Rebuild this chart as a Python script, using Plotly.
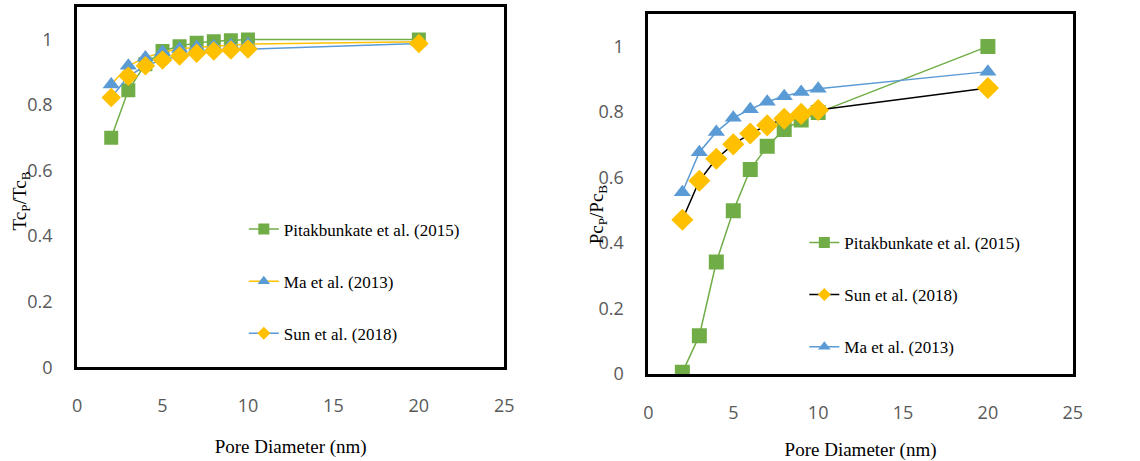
import plotly.graph_objects as go

# Pore diameters (nm) shared by all series
pore_d = [2, 3, 4, 5, 6, 7, 8, 9, 10, 20]

# Critical temperature ratio Tc_P / Tc_B
tc_pitak = [0.70, 0.845, 0.925, 0.965, 0.98, 0.99, 0.995, 0.998, 1.0, 1.0]
tc_ma = [0.863, 0.92, 0.945, 0.962, 0.972, 0.977, 0.98, 0.983, 0.986, 0.993]
tc_sun = [0.823, 0.888, 0.92, 0.938, 0.95, 0.958, 0.965, 0.968, 0.971, 0.988]

# Critical pressure ratio Pc_P / Pc_B
pc_pitak = [0.005, 0.117, 0.342, 0.498, 0.624, 0.695, 0.746, 0.775, 0.798, 1.0]
pc_sun = [0.471, 0.590, 0.657, 0.701, 0.734, 0.759, 0.779, 0.794, 0.806, 0.873]
pc_ma = [0.555, 0.677, 0.739, 0.782, 0.808, 0.831, 0.848, 0.861, 0.871, 0.923]

x_ticks = [0, 5, 10, 15, 20, 25]
y_ticks = [0, 0.2, 0.4, 0.6, 0.8, 1.0]

GREEN = "#70AD47"
BLUE = "#5B9BD5"
GOLD = "#FFC000"
BLACK = "#000000"
SERIF = "Liberation Serif"

fig = go.Figure()


def add_series(x, y, name, line_color, marker_color, symbol, size, key_size, xa, ya, legend, group):
    # plotted data
    fig.add_trace(go.Scatter(
        x=x, y=y, name=name, mode="lines+markers",
        line=dict(color=line_color, width=1.5),
        marker=dict(symbol=symbol, size=size, color=marker_color, line=dict(width=0)),
        xaxis=xa, yaxis=ya, showlegend=False, legendgroup=group,
    ))
    # legend key with a smaller marker
    fig.add_trace(go.Scatter(
        x=[None], y=[None], name=name, mode="lines+markers",
        line=dict(color=line_color, width=1.5),
        marker=dict(symbol=symbol, size=key_size, color=marker_color, line=dict(width=0)),
        xaxis=xa, yaxis=ya, legend=legend, legendgroup=group, hoverinfo="skip",
    ))


# Left panel: temperature ratio
add_series(pore_d, tc_pitak, "Pitakbunkate et al. (2015)", GREEN, GREEN, "square", 14, 11, "x", "y", "legend", "t1")
add_series(pore_d, tc_ma, "Ma et al. (2013)", GOLD, BLUE, "triangle-up", 15, 11, "x", "y", "legend", "t2")
add_series(pore_d, tc_sun, "Sun et al. (2018)", BLUE, GOLD, "diamond", 15, 10, "x", "y", "legend", "t3")

# Right panel: pressure ratio
add_series(pore_d, pc_pitak, "Pitakbunkate et al. (2015)", GREEN, GREEN, "square", 15, 11, "x2", "y2", "legend2", "p1")
add_series(pore_d, pc_sun, "Sun et al. (2018)", BLACK, GOLD, "diamond", 17, 10, "x2", "y2", "legend2", "p2")
add_series(pore_d, pc_ma, "Ma et al. (2013)", BLUE, BLUE, "triangle-up", 15, 11, "x2", "y2", "legend2", "p3")

tick_font = dict(family="Open Sans", size=18, color="#595959")

xaxis_common = dict(
    range=[0, 25], tickvals=x_ticks, showgrid=False, zeroline=False,
    showline=True, mirror=True, linecolor="black", linewidth=3,
    ticks="", tickfont=tick_font, ticklabelstandoff=20,
    title=dict(text="Pore Diameter (nm)", font=dict(family=SERIF, size=19, color="black"), standoff=24),
)
yaxis_common = dict(
    range=[0, 1.1], tickvals=y_ticks, showgrid=False, zeroline=False,
    showline=True, mirror=True, linecolor="black", linewidth=3,
    ticks="", tickfont=tick_font, ticklabelstandoff=18,
)

legend_common = dict(
    font=dict(family=SERIF, size=17, color="black"),
    bgcolor="rgba(0,0,0,0)", tracegroupgap=27,
    xanchor="left", yanchor="top", traceorder="grouped",
)

fig.update_layout(
    width=1140, height=461,
    margin=dict(l=0, r=0, t=0, b=0),
    font=dict(family=SERIF, color="black"),
    paper_bgcolor="white", plot_bgcolor="white",
    xaxis=dict(domain=[73 / 1140, 506 / 1140], anchor="y", **xaxis_common),
    yaxis=dict(domain=[1 - 377 / 461, 1 - 7 / 461], anchor="x", **yaxis_common),
    xaxis2=dict(domain=[652 / 1140, 1082 / 1140], anchor="y2", **xaxis_common),
    yaxis2=dict(domain=[1 - 384 / 461, 1 - 14 / 461], anchor="x2", **yaxis_common),
    legend=dict(x=242 / 1140, y=0.529, **legend_common),
    legend2=dict(x=810 / 1140, y=0.499, **legend_common),
    annotations=[
        dict(text="Tc<sub>P</sub>/Tc<sub>B</sub>", x=16 / 1140, y=1 - 206 / 461,
             xref="paper", yref="paper", textangle=-90, showarrow=False,
             xanchor="center", yanchor="middle", font=dict(family=SERIF, size=19, color="black")),
        dict(text="Pc<sub>P</sub>/Pc<sub>B</sub>", x=601 / 1140, y=1 - 220 / 461,
             xref="paper", yref="paper", textangle=-90, showarrow=False,
             xanchor="center", yanchor="middle", font=dict(family=SERIF, size=19, color="black")),
    ],
)

fig.write_html("out.html")
